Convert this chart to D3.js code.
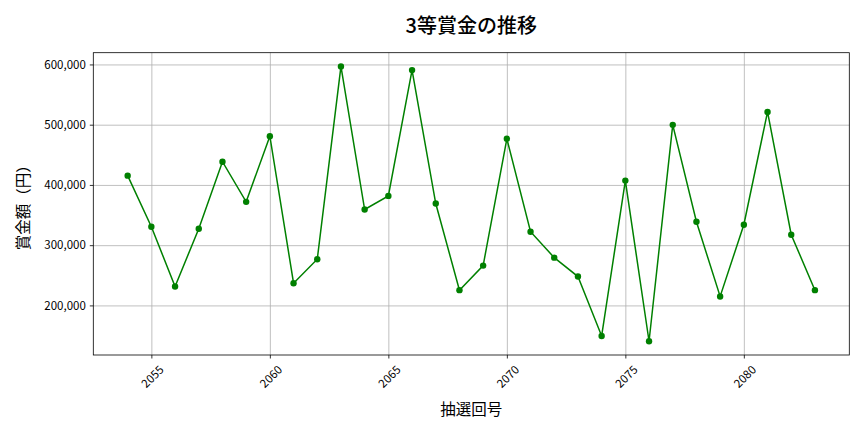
<!DOCTYPE html>
<html>
<head>
<meta charset="utf-8">
<script src="https://cdn.jsdelivr.net/npm/d3@7"></script>
<style>
  body { margin: 0; background: #fff; }
  text { font-family: "Noto Sans CJK JP", "Noto Sans", sans-serif; }
</style>
</head>
<body>
<svg id="chart" width="864" height="432"></svg>
<script>
// 抽選回号
const draws = [2054, 2055, 2056, 2057, 2058, 2059, 2060, 2061, 2062, 2063,
               2064, 2065, 2066, 2067, 2068, 2069, 2070, 2071, 2072, 2073,
               2074, 2075, 2076, 2077, 2078, 2079, 2080, 2081, 2082, 2083];
// 3等賞金 (円)
const prizes = [415400, 330600, 231400, 327300, 438600, 371900, 481000, 236900, 276600, 596700,
                359200, 381800, 590600, 369100, 225300, 266100, 476600, 322300, 279300, 247900,
                149300, 407200, 140500, 499700, 338800, 214900, 333900, 521200, 317400, 225300];
const xTicks = [2055, 2060, 2065, 2070, 2075, 2080];
const yTicks = [200000, 300000, 400000, 500000, 600000];

const svg = d3.select("#chart");
const margin = {left: 93.3, right: 864 - 849.3, top: 52.7, bottom: 432 - 355};
const W = 864, H = 432;

const data = draws.map((d, i) => ({draw: d, prize: prizes[i]}));

const xPad = (d3.max(draws) - d3.min(draws)) * 0.05;
const x = d3.scaleLinear()
  .domain([d3.min(draws) - xPad, d3.max(draws) + xPad])
  .range([margin.left, W - margin.right]);
const yPad = (d3.max(prizes) - d3.min(prizes)) * 0.05;
const y = d3.scaleLinear()
  .domain([d3.min(prizes) - yPad, d3.max(prizes) + yPad])
  .range([H - margin.bottom, margin.top]);

// grid
svg.append("g")
  .attr("transform", `translate(0,${H - margin.bottom})`)
  .call(d3.axisBottom(x).tickValues(xTicks).tickSize(-(H - margin.top - margin.bottom)).tickFormat(""))
  .call(g => g.select(".domain").remove())
  .call(g => g.selectAll("line").attr("stroke", "#b0b0b0").attr("stroke-width", 0.8));
svg.append("g")
  .attr("transform", `translate(${margin.left},0)`)
  .call(d3.axisLeft(y).tickValues(yTicks).tickSize(-(W - margin.left - margin.right)).tickFormat(""))
  .call(g => g.select(".domain").remove())
  .call(g => g.selectAll("line").attr("stroke", "#b0b0b0").attr("stroke-width", 0.8));

// axes
const xAxis = svg.append("g")
  .attr("transform", `translate(0,${H - margin.bottom})`)
  .call(d3.axisBottom(x).tickValues(xTicks).tickSize(3.5).tickFormat(d3.format("d")));
xAxis.select(".domain").remove();
xAxis.selectAll("line").attr("stroke", "#000").attr("stroke-width", 0.8);
xAxis.selectAll("text")
  .attr("font-size", 11.5)
  .attr("fill", "#000")
  .attr("text-anchor", "middle")
  .attr("dy", null)
  .attr("y", 0)
  .attr("transform", "translate(0,21) rotate(-45)")
  .attr("dominant-baseline", "central");

const yAxis = svg.append("g")
  .attr("transform", `translate(${margin.left},0)`)
  .call(d3.axisLeft(y).tickValues(yTicks).tickSize(3.5).tickPadding(4).tickFormat(d3.format(",")));
yAxis.select(".domain").remove();
yAxis.selectAll("line").attr("stroke", "#000").attr("stroke-width", 0.8);
yAxis.selectAll("text").attr("font-size", 11.5).attr("fill", "#000");

// frame
svg.append("rect")
  .attr("x", margin.left).attr("y", margin.top)
  .attr("width", W - margin.left - margin.right)
  .attr("height", H - margin.top - margin.bottom)
  .attr("fill", "none").attr("stroke", "#000").attr("stroke-width", 0.8);

// line + markers
const line = d3.line().x(d => x(d.draw)).y(d => y(d.prize));
svg.append("path")
  .datum(data)
  .attr("d", line)
  .attr("fill", "none")
  .attr("stroke", "green")
  .attr("stroke-width", 1.5);
svg.append("g").selectAll("circle")
  .data(data)
  .enter()
  .append("circle")
  .attr("cx", d => x(d.draw))
  .attr("cy", d => y(d.prize))
  .attr("r", 3.2)
  .attr("fill", "green");

// titles
svg.append("text")
  .attr("x", (margin.left + W - margin.right) / 2)
  .attr("y", 24)
  .attr("text-anchor", "middle")
  .attr("dominant-baseline", "central")
  .attr("font-size", 20)
  .attr("font-weight", 500)
  .text("3等賞金の推移");
svg.append("text")
  .attr("x", (margin.left + W - margin.right) / 2)
  .attr("y", 408)
  .attr("text-anchor", "middle")
  .attr("dominant-baseline", "central")
  .attr("font-size", 15.5)
  .text("抽選回号");
svg.append("text")
  .attr("transform", `translate(22,${(margin.top + H - margin.bottom) / 2}) rotate(-90)`)
  .attr("text-anchor", "middle")
  .attr("dominant-baseline", "central")
  .attr("font-size", 15.5)
  .text("賞金額（円）");
</script>
</body>
</html>
